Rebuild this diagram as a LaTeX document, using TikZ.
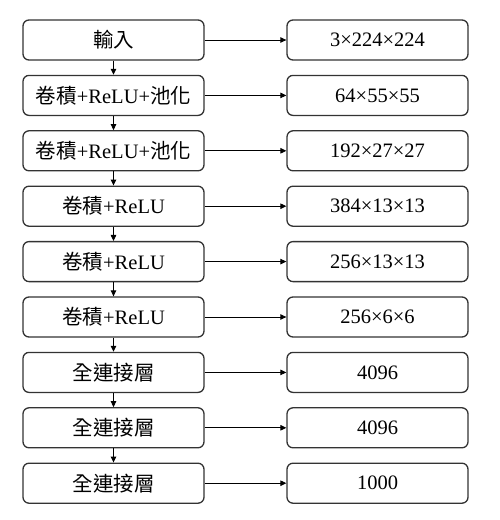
\documentclass[tikz,border=0pt]{standalone}
\usepackage{fontspec}
\setmainfont{Liberation Serif}
\newfontfamily\cjk{Noto Sans CJK TC}
\usetikzlibrary{arrows.meta}
\begin{document}
\begin{tikzpicture}[x=1pt,y=-1pt,
  box/.style={draw=black!80, line width=1.3pt, rounded corners=6pt, minimum width=181pt, minimum height=40pt, inner sep=0pt, font=\fontsize{20.5}{24}\selectfont},
  conn/.style={line width=0.9pt, -{Triangle[length=6pt,width=5.5pt]}}]
\useasboundingbox (0,0) rectangle (500,520);
\foreach \i/\lt/\rt in {0/{{\cjk 輸入}}/{3×224×224},
  1/{{\cjk 卷積}+ReLU+{\cjk 池化}}/{64×55×55},
  2/{{\cjk 卷積}+ReLU+{\cjk 池化}}/{192×27×27},
  3/{{\cjk 卷積}+ReLU}/{384×13×13},
  4/{{\cjk 卷積}+ReLU}/{256×13×13},
  5/{{\cjk 卷積}+ReLU}/{256×6×6},
  6/{{\cjk 全連接層}}/{4096},
  7/{{\cjk 全連接層}}/{4096},
  8/{{\cjk 全連接層}}/{1000}}{
  \node[box] (l\i) at (113.5,{40+55.4*\i}) {\lt};
  \node[box] (r\i) at (377.5,{40+55.4*\i}) {\rt};
  \draw[conn] (l\i) -- (r\i);
}
\foreach \i [evaluate=\i as \j using int(\i+1)] in {0,...,7}{
  \draw[conn] (l\i) -- (l\j);
}
\end{tikzpicture}
\end{document}
